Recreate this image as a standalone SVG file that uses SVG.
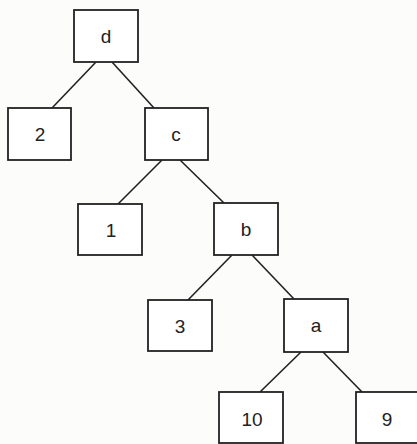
<svg xmlns="http://www.w3.org/2000/svg" width="417" height="444" viewBox="0 0 417 444">
<style>
.box{fill:#ffffff;stroke:#222;stroke-width:1.8}
.lbl{font-family:"Liberation Sans",Arial,sans-serif;font-size:19px;fill:#222;text-anchor:middle}
.edge{stroke:#222;stroke-width:1.6;fill:none}
</style>
<rect width="417" height="444" fill="#fcfcfb"/>
<g id="connectors">
<line class="edge" x1="96" y1="62" x2="52" y2="108"/>
<line class="edge" x1="112" y1="62" x2="154" y2="108"/>
<line class="edge" x1="162" y1="160" x2="118" y2="204"/>
<line class="edge" x1="180" y1="160" x2="224" y2="203"/>
<line class="edge" x1="232" y1="255" x2="188" y2="300"/>
<line class="edge" x1="252" y1="255" x2="294" y2="299"/>
<line class="edge" x1="301" y1="352" x2="260" y2="392"/>
<line class="edge" x1="323" y1="352" x2="362" y2="392"/>
</g>
<g id="node-d"><rect class="box" x="74" y="10" width="64" height="52"/><text class="lbl" x="106" y="43">d</text></g>
<g id="node-2"><rect class="box" x="8" y="108" width="63" height="52"/><text class="lbl" x="40" y="141">2</text></g>
<g id="node-c"><rect class="box" x="145" y="108" width="63" height="52"/><text class="lbl" x="176" y="141">c</text></g>
<g id="node-1"><rect class="box" x="78" y="204" width="64" height="51"/><text class="lbl" x="111" y="237">1</text></g>
<g id="node-b"><rect class="box" x="214" y="203" width="64" height="52"/><text class="lbl" x="246" y="236">b</text></g>
<g id="node-3"><rect class="box" x="148" y="300" width="64" height="51"/><text class="lbl" x="180" y="333">3</text></g>
<g id="node-a"><rect class="box" x="284" y="299" width="64" height="53"/><text class="lbl" x="316" y="332">a</text></g>
<g id="node-10"><rect class="box" x="219" y="392" width="64" height="51"/><text class="lbl" x="252" y="426">10</text></g>
<g id="node-9"><rect class="box" x="356" y="392" width="64" height="51"/><text class="lbl" x="387" y="426">9</text></g>
</svg>
